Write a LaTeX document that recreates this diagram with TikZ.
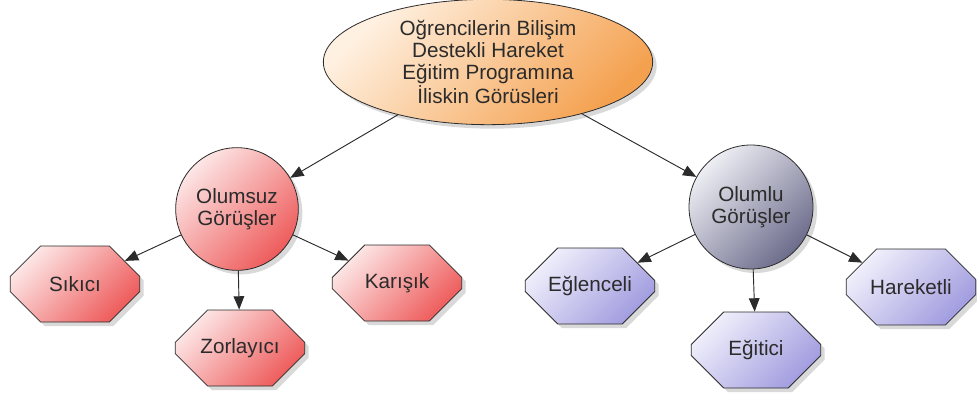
\documentclass[tikz,border=0pt]{standalone}
\usepackage{fontspec}
\setmainfont{Liberation Sans}
\usetikzlibrary{arrows.meta,positioning,shapes.geometric,shapes.misc,shadows}
\definecolor{peachLight}{HTML}{FFF1E2}
\definecolor{peachDark}{HTML}{F4A14F}
\definecolor{roseLight}{HTML}{FDE6E6}
\definecolor{roseDark}{HTML}{EE5B5B}
\definecolor{slateLight}{HTML}{EEEEF4}
\definecolor{slateDark}{HTML}{6C6C8C}
\definecolor{lilacLight}{HTML}{F0EFFB}
\definecolor{lilacDark}{HTML}{A19CDF}
\definecolor{inkGray}{HTML}{2B2B2B}

\begin{document}
\begin{tikzpicture}[
    x=0.75pt, y=-0.75pt,
    txt/.style={font=\fontsize{15.5}{16.5}\selectfont, text=inkGray, align=center, inner sep=0pt},
    boxshadow/.style={draw=inkGray, line width=0.6pt, drop shadow={shadow xshift=3pt, shadow yshift=-3pt, opacity=0.15, fill=black}},
    rootnode/.style={txt, boxshadow, ellipse, minimum width=247pt, minimum height=94pt, top color=peachLight, bottom color=peachDark, shading angle=45},
    negnode/.style={txt, boxshadow, circle, minimum size=92pt, top color=roseLight, bottom color=roseDark, shading angle=45},
    posnode/.style={txt, boxshadow, circle, minimum size=93pt, top color=slateLight, bottom color=slateDark, shading angle=45},
    negleaf/.style={txt, boxshadow, chamfered rectangle, chamfered rectangle xsep=26pt, chamfered rectangle ysep=17pt, minimum width=97pt, minimum height=57pt, top color=roseLight, bottom color=roseDark, shading angle=45},
    posleaf/.style={txt, boxshadow, chamfered rectangle, chamfered rectangle xsep=26pt, chamfered rectangle ysep=17pt, minimum width=97pt, minimum height=57pt, top color=lilacLight, bottom color=lilacDark, shading angle=45},
    arr/.style={-{Triangle[length=10pt, width=8pt]}, line width=0.7pt, color=inkGray}
  ]
    \useasboundingbox (0,0) rectangle (977,396);
    \node[rootnode] (gorus) at (488,62) {Oğrencilerin Bilişim\\Destekli Hareket\\Eğitim Programına\\İliskin Görüsleri};
    \node[negnode] (olumsuz) at (237,209) {Olumsuz\\Görüşler};
    \node[posnode] (olumlu) at (751,207) {Olumlu\\Görüşler};
    \node[negleaf] (sikici) at (75,284) {Sıkıcı};
    \node[negleaf] (zorlayici) at (240,348) {Zorlayıcı};
    \node[negleaf] (karisik) at (397,283) {Karışık};
    \node[posleaf] (eglenceli) at (590,286) {Eğlenceli};
    \node[posleaf] (egitici) at (756,350) {Eğitici};
    \node[posleaf] (hareketli) at (911,287) {Hareketli};
    \draw[arr] (gorus) -- (olumsuz);
    \draw[arr] (gorus) -- (olumlu);
    \draw[arr] (olumsuz) -- (sikici);
    \draw[arr] (olumsuz) -- (zorlayici);
    \draw[arr] (olumsuz) -- (karisik);
    \draw[arr] (olumlu) -- (eglenceli);
    \draw[arr] (olumlu) -- (egitici);
    \draw[arr] (olumlu) -- (hareketli);
  \end{tikzpicture}
\end{document}
